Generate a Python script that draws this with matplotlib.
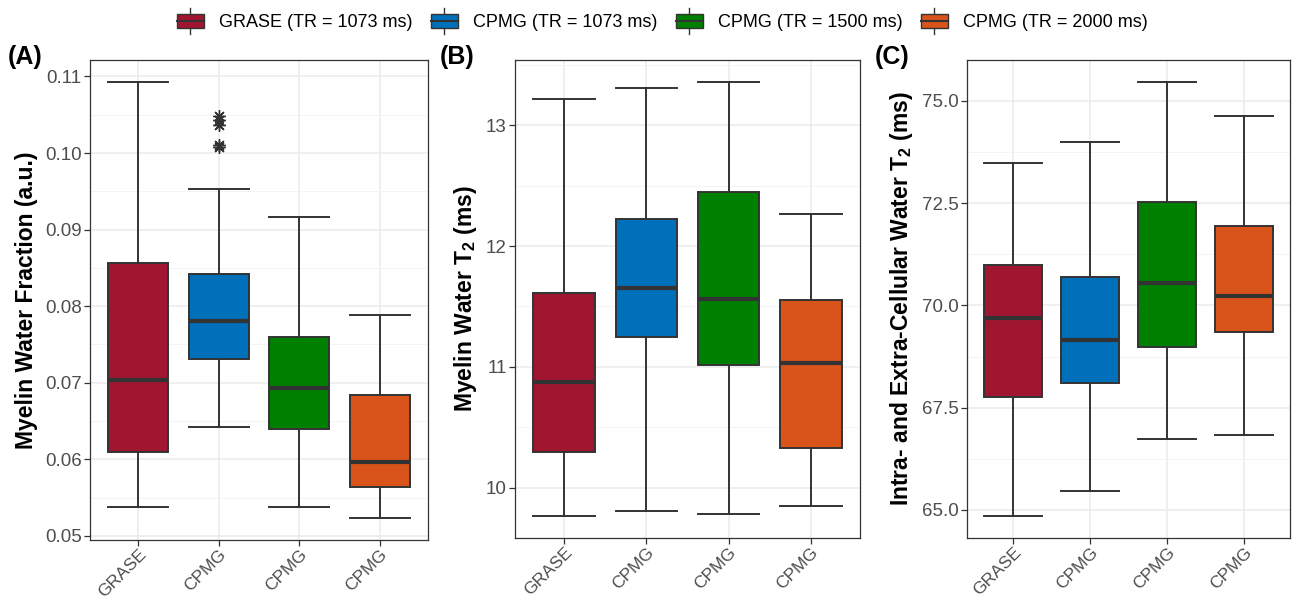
import numpy as np
import matplotlib
matplotlib.use("Agg")
import matplotlib.pyplot as plt
from matplotlib.patches import Rectangle
from matplotlib.lines import Line2D
from matplotlib.legend_handler import HandlerBase
from matplotlib.ticker import MultipleLocator, FormatStrFormatter

plt.rcParams['font.family'] = ['Liberation Sans', 'DejaVu Sans']
plt.rcParams['mathtext.default'] = 'regular'

# groups
methods = ["GRASE", "CPMG", "CPMG", "CPMG"]
legend_labels = ["GRASE (TR = 1073 ms)", "CPMG (TR = 1073 ms)",
                 "CPMG (TR = 1500 ms)", "CPMG (TR = 2000 ms)"]
colors = ["#A01530", "#0070BB", "#008000", "#D9541A"]

# (A) myelin water fraction
mwf_lo = [0.0537, 0.0642, 0.0537, 0.0523]
mwf_q1 = [0.0609, 0.0731, 0.0639, 0.0564]
mwf_med = [0.0704, 0.0780, 0.0693, 0.0597]
mwf_q3 = [0.0856, 0.0842, 0.0760, 0.0684]
mwf_hi = [0.1093, 0.0953, 0.0917, 0.0789]
mwf_out = [[], [0.1048, 0.1043, 0.1036, 0.1011, 0.1008], [], []]

# (B) myelin water T2
mwt2_lo = [9.763, 9.805, 9.785, 9.844]
mwt2_q1 = [10.294, 11.246, 11.014, 10.327]
mwt2_med = [10.878, 11.656, 11.559, 11.031]
mwt2_q3 = [11.612, 12.222, 12.449, 11.550]
mwt2_hi = [13.221, 13.309, 13.360, 12.266]
mwt2_out = [[], [], [], []]

# (C) intra/extra-cellular water T2
iet2_lo = [64.843, 65.462, 66.725, 66.820]
iet2_q1 = [67.770, 68.110, 68.980, 69.355]
iet2_med = [69.686, 69.146, 70.557, 70.226]
iet2_q3 = [70.976, 70.688, 72.535, 71.942]
iet2_hi = [73.493, 74.007, 75.470, 74.634]
iet2_out = [[], [], [], []]

edge = "#333333"


class BoxHandler(HandlerBase):
    # ggplot-style boxplot legend key
    def create_artists(self, legend, orig_handle, xdescent, ydescent,
                       width, height, fontsize, trans):
        cx = width / 2 - xdescent
        bh = height
        y0 = -ydescent
        rect = Rectangle((-xdescent, y0), width, bh,
                         facecolor=orig_handle.get_facecolor(),
                         edgecolor=edge, lw=1.0, transform=trans)
        med = Line2D([-xdescent, width - xdescent], [y0 + bh / 2] * 2,
                     color=edge, lw=1.5, transform=trans)
        up = Line2D([cx, cx], [y0 + bh, y0 + bh * 1.45],
                    color=edge, lw=1.0, transform=trans)
        dn = Line2D([cx, cx], [y0, y0 - bh * 0.45],
                    color=edge, lw=1.0, transform=trans)
        return [up, dn, rect, med]


def draw_panel(ax, lo, q1, med, q3, hi, out, ylabel, major, minor, fmt, tag, tagx):
    stats = []
    for i in range(len(methods)):
        stats.append(dict(whislo=lo[i], q1=q1[i], med=med[i], q3=q3[i],
                          whishi=hi[i], fliers=out[i]))
    pos = np.arange(1, len(methods) + 1)
    ax.set_axisbelow(True)
    bp = ax.bxp(stats, positions=pos, widths=0.75, patch_artist=True,
                showcaps=True,
                boxprops=dict(edgecolor=edge, linewidth=1.4),
                medianprops=dict(color=edge, linewidth=3.0),
                whiskerprops=dict(color=edge, linewidth=1.4),
                capprops=dict(color=edge, linewidth=1.4),
                flierprops=dict(marker=(8, 2, 0), markersize=9,
                                markeredgecolor=edge, markeredgewidth=1.0,
                                linestyle='none'))
    for patch, c in zip(bp['boxes'], colors):
        patch.set_facecolor(c)
    # caps as wide as the box
    for j, cap in enumerate(bp['caps']):
        p = pos[j // 2]
        cap.set_xdata([p - 0.375, p + 0.375])

    allv = lo + hi + [v for o in out for v in o]
    rng = max(allv) - min(allv)
    ax.set_ylim(min(allv) - 0.05 * rng, max(allv) + 0.05 * rng)
    ax.set_xlim(0.4, len(methods) + 0.6)
    ax.set_xticks(pos)
    ax.set_xticklabels(methods, rotation=45, ha='right',
                       rotation_mode='anchor', fontsize=12.5)
    ax.yaxis.set_major_locator(MultipleLocator(major))
    ax.yaxis.set_minor_locator(MultipleLocator(minor))
    ax.yaxis.set_major_formatter(FormatStrFormatter(fmt))
    ax.grid(which='major', color='#EBEBEB', linewidth=1.1)
    ax.grid(which='minor', axis='y', color='#F2F2F2', linewidth=0.6)
    ax.tick_params(which='minor', length=0)
    ax.tick_params(which='major', length=4, width=0.9, color='#333333',
                   labelcolor='#4D4D4D', pad=2)
    ax.tick_params(axis='y', labelsize=13.5)
    ax.tick_params(axis='x', pad=1)
    for s in ax.spines.values():
        s.set_color('#333333')
        s.set_linewidth(0.9)
    ax.set_ylabel(ylabel, fontsize=16.5, fontweight='bold', labelpad=5)
    ax.text(tagx, 1.006, tag, transform=ax.transAxes, fontsize=18,
            fontweight='bold', va='center', ha='left')


fig = plt.figure(figsize=(12.98, 6.02), dpi=100)
axA = fig.add_axes([90 / 1298, 62 / 602, 338 / 1298, 480 / 602])
axB = fig.add_axes([515 / 1298, 64 / 602, 345 / 1298, 478 / 602])
axC = fig.add_axes([967 / 1298, 64 / 602, 323 / 1298, 478 / 602])

draw_panel(axA, mwf_lo, mwf_q1, mwf_med, mwf_q3, mwf_hi, mwf_out,
           "Myelin Water Fraction (a.u.)", 0.01, 0.005, '%.2f', "(A)", -0.243)
draw_panel(axB, mwt2_lo, mwt2_q1, mwt2_med, mwt2_q3, mwt2_hi, mwt2_out,
           "Myelin Water T$_2$ (ms)", 1, 0.5, '%d', "(B)", -0.217)
draw_panel(axC, iet2_lo, iet2_q1, iet2_med, iet2_q3, iet2_hi, iet2_out,
           "Intra- and Extra-Cellular Water T$_2$ (ms)", 2.5, 1.25, '%.1f', "(C)", -0.285)

handles = [Rectangle((0, 0), 1, 1, facecolor=c) for c in colors]
fig.legend(handles, legend_labels, loc='center', bbox_to_anchor=(0.5104, 0.962),
           ncol=4, frameon=False, fontsize=13, handler_map={Rectangle: BoxHandler()},
           handlelength=1.5, handleheight=0.8, columnspacing=1.0, handletextpad=0.85)

fig.savefig("out.png", dpi=100)
